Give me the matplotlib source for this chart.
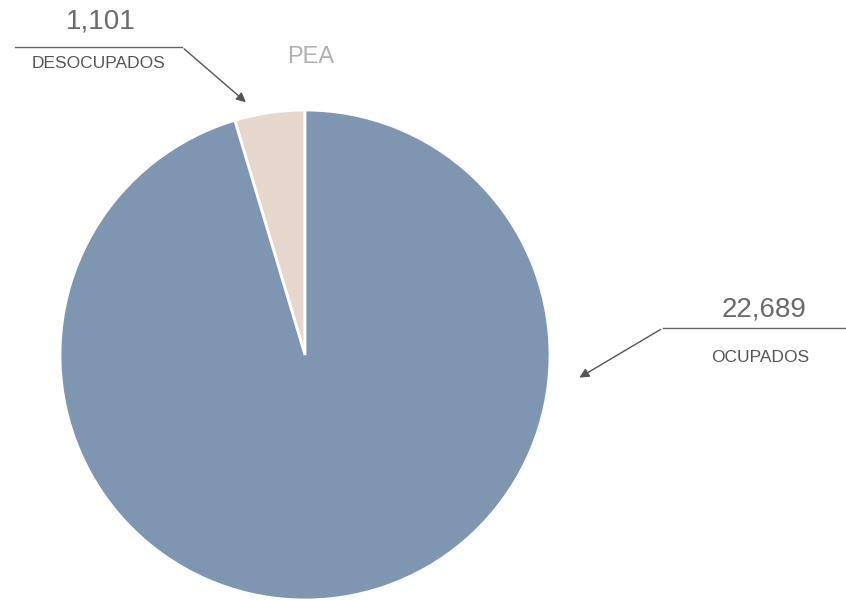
import matplotlib
matplotlib.use('Agg')
import matplotlib.pyplot as plt

# Data
labels = ['DESOCUPADOS', 'OCUPADOS']
values = [1101, 22689]
colors = ['#e6d6cc', '#7f96b3']
title = 'PEA'

plt.rcParams['font.family'] = ['Liberation Sans', 'DejaVu Sans']

W, H = 846, 600
fig = plt.figure(figsize=(W / 100, H / 100), dpi=100)

# pie axes in pixels: center (305, 355 from top), radius 245
cx, cy, r = 305, 355, 245
ax = fig.add_axes([(cx - r) / W, (H - cy - r) / H, 2 * r / W, 2 * r / H])
ax.pie(values, colors=colors, startangle=90, counterclock=True,
       wedgeprops=dict(edgecolor='white', linewidth=2))
ax.set_xlim(-1, 1)
ax.set_ylim(-1, 1)
ax.set_aspect('auto')
ax.axis('off')


def px(x, y):
    # top-left pixel coords -> figure fraction
    return (x / W, 1 - y / H)


# title
fig.text(*px(311, 57), title, color='#b0b0b0', fontsize=17,
         ha='center', va='center')

# desocupados label
fig.text(*px(101, 22), '{:,}'.format(values[0]), color='#6a6a6a',
         fontsize=20, ha='center', va='center')
fig.text(*px(98, 63), labels[0], color='#555555', fontsize=12.5,
         ha='center', va='center')
fig.add_artist(plt.Line2D([15 / W, 182 / W], [1 - 47 / H, 1 - 47 / H],
                          color='#666666', lw=1, transform=fig.transFigure))
fig.add_artist(matplotlib.patches.FancyArrowPatch(
    px(182, 47), px(248, 104), transform=fig.transFigure,
    arrowstyle='-|>', mutation_scale=14, color='#555555', lw=1))

# ocupados label
fig.text(*px(764, 309), '{:,}'.format(values[1]), color='#6a6a6a',
         fontsize=20, ha='center', va='center')
fig.text(*px(760, 357), labels[1], color='#555555', fontsize=12.5,
         ha='center', va='center')
fig.add_artist(plt.Line2D([663 / W, 846 / W], [1 - 328 / H, 1 - 328 / H],
                          color='#666666', lw=1, transform=fig.transFigure))
fig.add_artist(matplotlib.patches.FancyArrowPatch(
    px(663, 328), px(577, 379), transform=fig.transFigure,
    arrowstyle='-|>', mutation_scale=14, color='#555555', lw=1))

fig.savefig('out.png', dpi=100, facecolor='white')
